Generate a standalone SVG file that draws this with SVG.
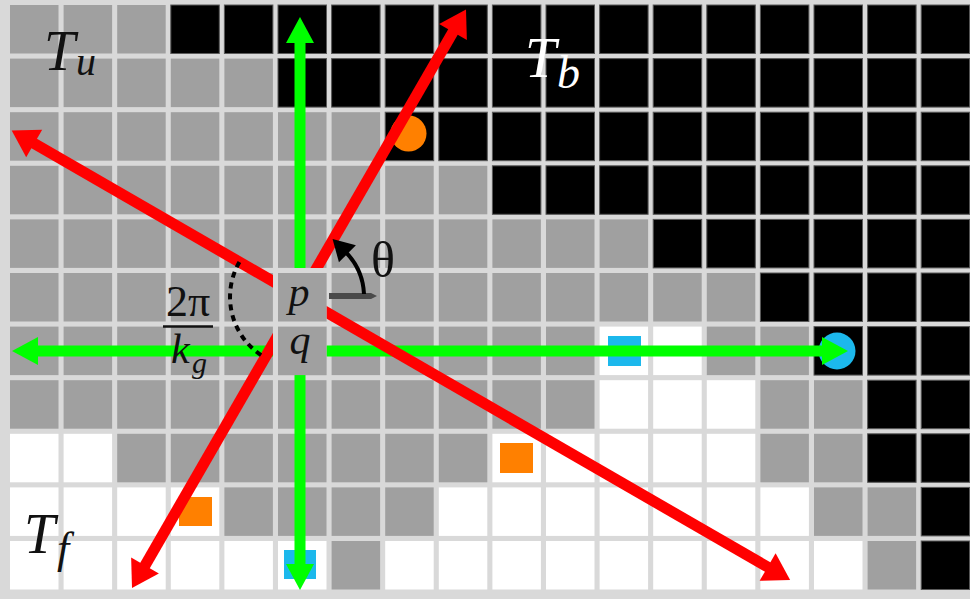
<svg xmlns="http://www.w3.org/2000/svg" width="970" height="599" viewBox="0 0 970 599">
<style>
.g{fill:#a0a0a0}
.k{fill:#000;stroke:#5a5a5a;stroke-width:1}
.w{fill:#fff}
.t{font-family:"Liberation Serif","Times New Roman",serif;font-style:italic;fill:#111}
.u{font-family:"Liberation Serif","Times New Roman",serif;fill:#111}
.red{stroke:#ff0000;stroke-width:11;fill:none}
.grn{stroke:#00ff00;stroke-width:11;fill:none}
</style>
<defs>
<marker id="ar" markerUnits="userSpaceOnUse" orient="auto-start-reverse" refX="6" refY="0" markerWidth="40" markerHeight="40" viewBox="-2 -20 32 40" overflow="visible"><path d="M0,-16 L26,0 L0,16 z" fill="#ff0000"/></marker>
<marker id="ag" markerUnits="userSpaceOnUse" orient="auto-start-reverse" refX="6" refY="0" markerWidth="40" markerHeight="40" viewBox="-2 -20 32 40" overflow="visible"><path d="M0,-14 L26,0 L0,14 z" fill="#00ff00"/></marker>
<marker id="ak" markerUnits="userSpaceOnUse" orient="auto" refX="2" refY="0" markerWidth="30" markerHeight="30" viewBox="-2 -10 20 20" overflow="visible"><path d="M0,-8 L14,0 L0,8 z" fill="#000"/></marker>
</defs>
<rect x="0" y="0" width="970" height="599" fill="#d9d9d9"/>
<g id="grid">
<!-- row 0 -->
<rect class="g" x="10" y="5" width="48.5" height="48.5"/><rect class="g" x="63.6" y="5" width="48.5" height="48.5"/><rect class="g" x="117.2" y="5" width="48.5" height="48.5"/><rect class="k" x="170.8" y="5" width="48.5" height="48.5"/><rect class="k" x="224.4" y="5" width="48.5" height="48.5"/><rect class="k" x="278" y="5" width="48.5" height="48.5"/><rect class="k" x="331.6" y="5" width="48.5" height="48.5"/><rect class="k" x="385.2" y="5" width="48.5" height="48.5"/><rect class="k" x="438.8" y="5" width="48.5" height="48.5"/><rect class="k" x="492.4" y="5" width="48.5" height="48.5"/><rect class="k" x="546" y="5" width="48.5" height="48.5"/><rect class="k" x="599.6" y="5" width="48.5" height="48.5"/><rect class="k" x="653.2" y="5" width="48.5" height="48.5"/><rect class="k" x="706.8" y="5" width="48.5" height="48.5"/><rect class="k" x="760.4" y="5" width="48.5" height="48.5"/><rect class="k" x="814" y="5" width="48.5" height="48.5"/><rect class="k" x="867.6" y="5" width="48.5" height="48.5"/><rect class="k" x="921.2" y="5" width="48.5" height="48.5"/>
<!-- row 1 -->
<rect class="g" x="10" y="58.6" width="48.5" height="48.5"/><rect class="g" x="63.6" y="58.6" width="48.5" height="48.5"/><rect class="g" x="117.2" y="58.6" width="48.5" height="48.5"/><rect class="g" x="170.8" y="58.6" width="48.5" height="48.5"/><rect class="g" x="224.4" y="58.6" width="48.5" height="48.5"/><rect class="k" x="278" y="58.6" width="48.5" height="48.5"/><rect class="k" x="331.6" y="58.6" width="48.5" height="48.5"/><rect class="k" x="385.2" y="58.6" width="48.5" height="48.5"/><rect class="k" x="438.8" y="58.6" width="48.5" height="48.5"/><rect class="k" x="492.4" y="58.6" width="48.5" height="48.5"/><rect class="k" x="546" y="58.6" width="48.5" height="48.5"/><rect class="k" x="599.6" y="58.6" width="48.5" height="48.5"/><rect class="k" x="653.2" y="58.6" width="48.5" height="48.5"/><rect class="k" x="706.8" y="58.6" width="48.5" height="48.5"/><rect class="k" x="760.4" y="58.6" width="48.5" height="48.5"/><rect class="k" x="814" y="58.6" width="48.5" height="48.5"/><rect class="k" x="867.6" y="58.6" width="48.5" height="48.5"/><rect class="k" x="921.2" y="58.6" width="48.5" height="48.5"/>
<!-- row 2 -->
<rect class="g" x="10" y="112.2" width="48.5" height="48.5"/><rect class="g" x="63.6" y="112.2" width="48.5" height="48.5"/><rect class="g" x="117.2" y="112.2" width="48.5" height="48.5"/><rect class="g" x="170.8" y="112.2" width="48.5" height="48.5"/><rect class="g" x="224.4" y="112.2" width="48.5" height="48.5"/><rect class="g" x="278" y="112.2" width="48.5" height="48.5"/><rect class="g" x="331.6" y="112.2" width="48.5" height="48.5"/><rect class="k" x="385.2" y="112.2" width="48.5" height="48.5"/><rect class="k" x="438.8" y="112.2" width="48.5" height="48.5"/><rect class="k" x="492.4" y="112.2" width="48.5" height="48.5"/><rect class="k" x="546" y="112.2" width="48.5" height="48.5"/><rect class="k" x="599.6" y="112.2" width="48.5" height="48.5"/><rect class="k" x="653.2" y="112.2" width="48.5" height="48.5"/><rect class="k" x="706.8" y="112.2" width="48.5" height="48.5"/><rect class="k" x="760.4" y="112.2" width="48.5" height="48.5"/><rect class="k" x="814" y="112.2" width="48.5" height="48.5"/><rect class="k" x="867.6" y="112.2" width="48.5" height="48.5"/><rect class="k" x="921.2" y="112.2" width="48.5" height="48.5"/>
<!-- row 3 -->
<rect class="g" x="10" y="165.8" width="48.5" height="48.5"/><rect class="g" x="63.6" y="165.8" width="48.5" height="48.5"/><rect class="g" x="117.2" y="165.8" width="48.5" height="48.5"/><rect class="g" x="170.8" y="165.8" width="48.5" height="48.5"/><rect class="g" x="224.4" y="165.8" width="48.5" height="48.5"/><rect class="g" x="278" y="165.8" width="48.5" height="48.5"/><rect class="g" x="331.6" y="165.8" width="48.5" height="48.5"/><rect class="g" x="385.2" y="165.8" width="48.5" height="48.5"/><rect class="g" x="438.8" y="165.8" width="48.5" height="48.5"/><rect class="k" x="492.4" y="165.8" width="48.5" height="48.5"/><rect class="k" x="546" y="165.8" width="48.5" height="48.5"/><rect class="k" x="599.6" y="165.8" width="48.5" height="48.5"/><rect class="k" x="653.2" y="165.8" width="48.5" height="48.5"/><rect class="k" x="706.8" y="165.8" width="48.5" height="48.5"/><rect class="k" x="760.4" y="165.8" width="48.5" height="48.5"/><rect class="k" x="814" y="165.8" width="48.5" height="48.5"/><rect class="k" x="867.6" y="165.8" width="48.5" height="48.5"/><rect class="k" x="921.2" y="165.8" width="48.5" height="48.5"/>
<!-- row 4 -->
<rect class="g" x="10" y="219.4" width="48.5" height="48.5"/><rect class="g" x="63.6" y="219.4" width="48.5" height="48.5"/><rect class="g" x="117.2" y="219.4" width="48.5" height="48.5"/><rect class="g" x="170.8" y="219.4" width="48.5" height="48.5"/><rect class="g" x="224.4" y="219.4" width="48.5" height="48.5"/><rect class="g" x="278" y="219.4" width="48.5" height="48.5"/><rect class="g" x="331.6" y="219.4" width="48.5" height="48.5"/><rect class="g" x="385.2" y="219.4" width="48.5" height="48.5"/><rect class="g" x="438.8" y="219.4" width="48.5" height="48.5"/><rect class="g" x="492.4" y="219.4" width="48.5" height="48.5"/><rect class="g" x="546" y="219.4" width="48.5" height="48.5"/><rect class="g" x="599.6" y="219.4" width="48.5" height="48.5"/><rect class="k" x="653.2" y="219.4" width="48.5" height="48.5"/><rect class="k" x="706.8" y="219.4" width="48.5" height="48.5"/><rect class="k" x="760.4" y="219.4" width="48.5" height="48.5"/><rect class="k" x="814" y="219.4" width="48.5" height="48.5"/><rect class="k" x="867.6" y="219.4" width="48.5" height="48.5"/><rect class="k" x="921.2" y="219.4" width="48.5" height="48.5"/>
<!-- row 5 -->
<rect class="g" x="10" y="273" width="48.5" height="48.5"/><rect class="g" x="63.6" y="273" width="48.5" height="48.5"/><rect class="g" x="117.2" y="273" width="48.5" height="48.5"/><rect class="g" x="170.8" y="273" width="48.5" height="48.5"/><rect class="g" x="224.4" y="273" width="48.5" height="48.5"/><rect class="g" x="278" y="273" width="48.5" height="48.5"/><rect class="g" x="331.6" y="273" width="48.5" height="48.5"/><rect class="g" x="385.2" y="273" width="48.5" height="48.5"/><rect class="g" x="438.8" y="273" width="48.5" height="48.5"/><rect class="g" x="492.4" y="273" width="48.5" height="48.5"/><rect class="g" x="546" y="273" width="48.5" height="48.5"/><rect class="g" x="599.6" y="273" width="48.5" height="48.5"/><rect class="g" x="653.2" y="273" width="48.5" height="48.5"/><rect class="g" x="706.8" y="273" width="48.5" height="48.5"/><rect class="k" x="760.4" y="273" width="48.5" height="48.5"/><rect class="k" x="814" y="273" width="48.5" height="48.5"/><rect class="k" x="867.6" y="273" width="48.5" height="48.5"/><rect class="k" x="921.2" y="273" width="48.5" height="48.5"/>
<!-- row 6 -->
<rect class="g" x="10" y="326.6" width="48.5" height="48.5"/><rect class="g" x="63.6" y="326.6" width="48.5" height="48.5"/><rect class="g" x="117.2" y="326.6" width="48.5" height="48.5"/><rect class="g" x="170.8" y="326.6" width="48.5" height="48.5"/><rect class="g" x="224.4" y="326.6" width="48.5" height="48.5"/><rect class="g" x="278" y="326.6" width="48.5" height="48.5"/><rect class="g" x="331.6" y="326.6" width="48.5" height="48.5"/><rect class="g" x="385.2" y="326.6" width="48.5" height="48.5"/><rect class="g" x="438.8" y="326.6" width="48.5" height="48.5"/><rect class="g" x="492.4" y="326.6" width="48.5" height="48.5"/><rect class="g" x="546" y="326.6" width="48.5" height="48.5"/><rect class="w" x="599.6" y="326.6" width="48.5" height="48.5"/><rect class="w" x="653.2" y="326.6" width="48.5" height="48.5"/><rect class="g" x="706.8" y="326.6" width="48.5" height="48.5"/><rect class="g" x="760.4" y="326.6" width="48.5" height="48.5"/><rect class="k" x="814" y="326.6" width="48.5" height="48.5"/><rect class="k" x="867.6" y="326.6" width="48.5" height="48.5"/><rect class="k" x="921.2" y="326.6" width="48.5" height="48.5"/>
<!-- row 7 -->
<rect class="g" x="10" y="380.2" width="48.5" height="48.5"/><rect class="g" x="63.6" y="380.2" width="48.5" height="48.5"/><rect class="g" x="117.2" y="380.2" width="48.5" height="48.5"/><rect class="g" x="170.8" y="380.2" width="48.5" height="48.5"/><rect class="g" x="224.4" y="380.2" width="48.5" height="48.5"/><rect class="g" x="278" y="380.2" width="48.5" height="48.5"/><rect class="g" x="331.6" y="380.2" width="48.5" height="48.5"/><rect class="g" x="385.2" y="380.2" width="48.5" height="48.5"/><rect class="g" x="438.8" y="380.2" width="48.5" height="48.5"/><rect class="g" x="492.4" y="380.2" width="48.5" height="48.5"/><rect class="g" x="546" y="380.2" width="48.5" height="48.5"/><rect class="w" x="599.6" y="380.2" width="48.5" height="48.5"/><rect class="w" x="653.2" y="380.2" width="48.5" height="48.5"/><rect class="w" x="706.8" y="380.2" width="48.5" height="48.5"/><rect class="g" x="760.4" y="380.2" width="48.5" height="48.5"/><rect class="g" x="814" y="380.2" width="48.5" height="48.5"/><rect class="k" x="867.6" y="380.2" width="48.5" height="48.5"/><rect class="k" x="921.2" y="380.2" width="48.5" height="48.5"/>
<!-- row 8 -->
<rect class="w" x="10" y="433.8" width="48.5" height="48.5"/><rect class="w" x="63.6" y="433.8" width="48.5" height="48.5"/><rect class="g" x="117.2" y="433.8" width="48.5" height="48.5"/><rect class="g" x="170.8" y="433.8" width="48.5" height="48.5"/><rect class="g" x="224.4" y="433.8" width="48.5" height="48.5"/><rect class="g" x="278" y="433.8" width="48.5" height="48.5"/><rect class="g" x="331.6" y="433.8" width="48.5" height="48.5"/><rect class="g" x="385.2" y="433.8" width="48.5" height="48.5"/><rect class="g" x="438.8" y="433.8" width="48.5" height="48.5"/><rect class="w" x="492.4" y="433.8" width="48.5" height="48.5"/><rect class="w" x="546" y="433.8" width="48.5" height="48.5"/><rect class="w" x="599.6" y="433.8" width="48.5" height="48.5"/><rect class="w" x="653.2" y="433.8" width="48.5" height="48.5"/><rect class="w" x="706.8" y="433.8" width="48.5" height="48.5"/><rect class="g" x="760.4" y="433.8" width="48.5" height="48.5"/><rect class="g" x="814" y="433.8" width="48.5" height="48.5"/><rect class="k" x="867.6" y="433.8" width="48.5" height="48.5"/><rect class="k" x="921.2" y="433.8" width="48.5" height="48.5"/>
<!-- row 9 -->
<rect class="w" x="10" y="487.4" width="48.5" height="48.5"/><rect class="w" x="63.6" y="487.4" width="48.5" height="48.5"/><rect class="w" x="117.2" y="487.4" width="48.5" height="48.5"/><rect class="w" x="170.8" y="487.4" width="48.5" height="48.5"/><rect class="g" x="224.4" y="487.4" width="48.5" height="48.5"/><rect class="g" x="278" y="487.4" width="48.5" height="48.5"/><rect class="g" x="331.6" y="487.4" width="48.5" height="48.5"/><rect class="g" x="385.2" y="487.4" width="48.5" height="48.5"/><rect class="w" x="438.8" y="487.4" width="48.5" height="48.5"/><rect class="w" x="492.4" y="487.4" width="48.5" height="48.5"/><rect class="w" x="546" y="487.4" width="48.5" height="48.5"/><rect class="w" x="599.6" y="487.4" width="48.5" height="48.5"/><rect class="w" x="653.2" y="487.4" width="48.5" height="48.5"/><rect class="w" x="706.8" y="487.4" width="48.5" height="48.5"/><rect class="w" x="760.4" y="487.4" width="48.5" height="48.5"/><rect class="g" x="814" y="487.4" width="48.5" height="48.5"/><rect class="g" x="867.6" y="487.4" width="48.5" height="48.5"/><rect class="k" x="921.2" y="487.4" width="48.5" height="48.5"/>
<!-- row 10 -->
<rect class="w" x="10" y="541" width="48.5" height="48.5"/><rect class="w" x="63.6" y="541" width="48.5" height="48.5"/><rect class="w" x="117.2" y="541" width="48.5" height="48.5"/><rect class="w" x="170.8" y="541" width="48.5" height="48.5"/><rect class="w" x="224.4" y="541" width="48.5" height="48.5"/><rect class="w" x="278" y="541" width="48.5" height="48.5"/><rect class="g" x="331.6" y="541" width="48.5" height="48.5"/><rect class="w" x="385.2" y="541" width="48.5" height="48.5"/><rect class="w" x="438.8" y="541" width="48.5" height="48.5"/><rect class="w" x="492.4" y="541" width="48.5" height="48.5"/><rect class="w" x="546" y="541" width="48.5" height="48.5"/><rect class="w" x="599.6" y="541" width="48.5" height="48.5"/><rect class="w" x="653.2" y="541" width="48.5" height="48.5"/><rect class="w" x="706.8" y="541" width="48.5" height="48.5"/><rect class="w" x="760.4" y="541" width="48.5" height="48.5"/><rect class="w" x="814" y="541" width="48.5" height="48.5"/><rect class="g" x="867.6" y="541" width="48.5" height="48.5"/><rect class="k" x="921.2" y="541" width="48.5" height="48.5"/>
</g>
<g id="samples">
<circle cx="408.5" cy="133.5" r="18" fill="#ff8000"/>
<circle cx="837" cy="351" r="18.5" fill="#1cb8ec"/>
<rect x="608" y="336" width="33" height="30" fill="#1cb8ec"/>
<rect x="284" y="550" width="32" height="29" fill="#1cb8ec"/>
<rect x="500" y="443" width="33" height="30" fill="#ff8000"/>
<rect x="179" y="497" width="33" height="29" fill="#ff8000"/>
</g>
<g id="connectors">
<line class="grn" x1="300" y1="570" x2="300" y2="37" marker-start="url(#ag)" marker-end="url(#ag)"/>
<line class="grn" x1="32" y1="351" x2="828" y2="351" marker-start="url(#ag)" marker-end="url(#ag)"/>
<line class="red" x1="142" y1="570.7" x2="456" y2="26.8" marker-start="url(#ar)" marker-end="url(#ar)"/>
<line class="red" x1="29" y1="140.5" x2="772.8" y2="570" marker-start="url(#ar)" marker-end="url(#ar)"/>
</g>
<g id="node-pq">
<rect x="273" y="268" width="53.5" height="107" fill="#d9d9d9"/>
<rect class="g" x="278" y="273" width="48.5" height="48.5"/>
<rect class="g" x="278" y="326.6" width="48.5" height="48.5"/>
<text class="t" x="299" y="306" font-size="42" text-anchor="middle">p</text>
<text class="t" x="300" y="354" font-size="42" text-anchor="middle">q</text>
</g>
<g id="angle-kg">
<path d="M239.4,262 A70,70 0 0 0 265,357.6" fill="none" stroke="#000" stroke-width="4" stroke-dasharray="6 5"/>
<text class="u" x="188" y="316" font-size="44" text-anchor="middle">2π</text>
<line x1="163" y1="326.5" x2="213" y2="326.5" stroke="#111" stroke-width="2.5"/>
<text class="t" x="171" y="363" font-size="42">k</text>
<text class="t" x="192" y="373" font-size="30">g</text>
</g>
<g id="angle-theta">
<path d="M329,293 L371,293 L377,296 L371,299 L329,299 z" fill="#4a4a4a"/>
<path d="M364,294 A64,64 0 0 0 345.3,251.7" fill="none" stroke="#000" stroke-width="4" marker-end="url(#ak)"/>
<text class="u" x="383" y="277" font-size="50" text-anchor="middle">θ</text>
</g>
<g id="labels">
<text class="t" x="44" y="70" font-size="56">T</text><text class="t" x="76" y="75" font-size="40">u</text>
<text class="t" x="525" y="77" font-size="56" style="fill:#fff">T</text><text class="t" x="557" y="88" font-size="46" style="fill:#fff">b</text>
<text class="t" x="24" y="553" font-size="56">T</text><text class="t" x="57" y="563" font-size="44">f</text>
</g>
</svg>
